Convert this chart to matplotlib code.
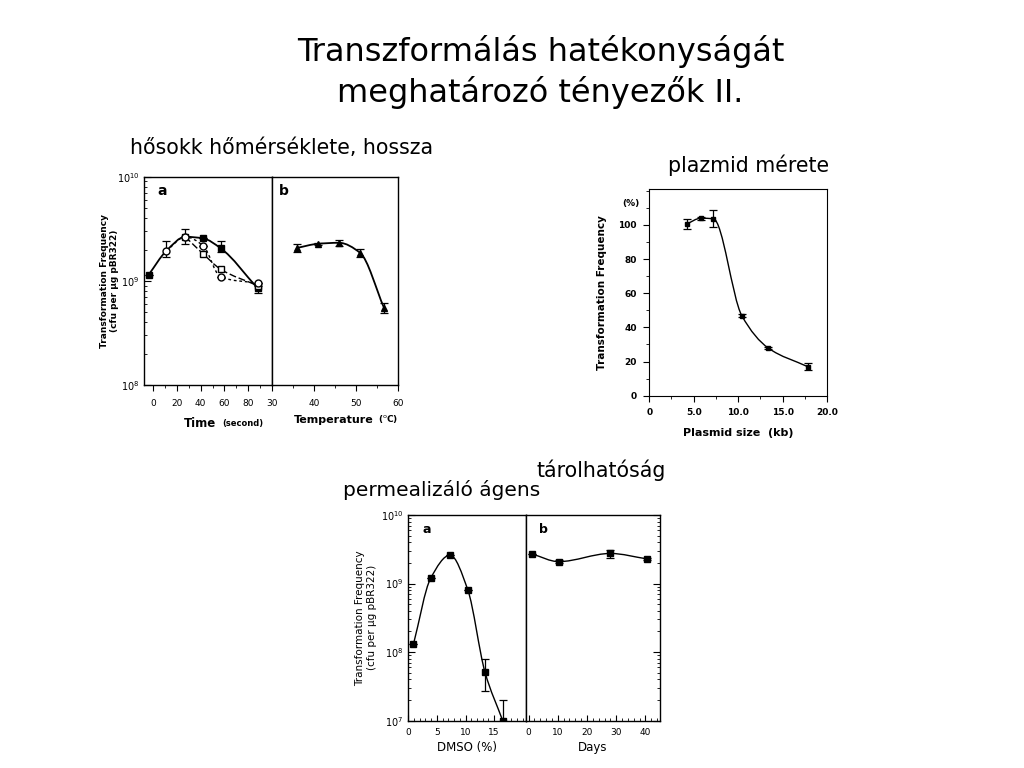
import numpy as np
import matplotlib
matplotlib.use('Agg')
import matplotlib.pyplot as plt
from matplotlib.path import Path
from matplotlib.patches import PathPatch
from matplotlib.ticker import LogLocator, MultipleLocator, NullFormatter

plt.rcParams['font.family'] = ['DejaVu Sans']

# --- heat shock: time (panel a) ---
t_solid = [-4, 11, 27, 42, 57, 88]
f_solid = [1.14e9, 1.94e9, 2.65e9, 2.56e9, 2.05e9, 0.85e9]
t_fsq = [-4, 42, 57, 88]
f_fsq = [1.14e9, 2.56e9, 2.05e9, 0.85e9]
fsq_err_lo = [0, 0, 0.15e9, 0.09e9]
fsq_err_hi = [0, 0, 0.37e9, 0.05e9]
t_ocirc = [11, 27, 42, 57, 88]
f_ocirc = [1.94e9, 2.65e9, 2.18e9, 1.08e9, 0.95e9]
oc_err_lo = [0.24e9, 0.4e9, 0, 0, 0]
oc_err_hi = [0.46e9, 0.48e9, 0, 0, 0]
t_osq = [27, 42, 57, 88]
f_osq = [2.65e9, 1.82e9, 1.29e9, 0.90e9]

# --- heat shock: temperature (panel b) ---
temp = [36, 41, 46, 51, 56.7]
f_temp = [2.07e9, 2.27e9, 2.32e9, 1.86e9, 5.5e8]
temp_err = [0.17e9, 0.05e9, 0.17e9, 0.16e9, 0.6e8]

# --- plasmid size ---
size_kb = [4.2, 5.8, 7.2, 10.4, 13.4, 17.8]
freq_pct = [100.5, 103.9, 103.6, 46.9, 27.8, 17.0]
pct_err = [2.8, 1.0, 4.9, 1.0, 0.6, 2.0]

# --- DMSO (panel a) ---
dmso = [0.9, 3.9, 7.3, 10.4, 13.4, 16.5]
f_dmso = [1.3e8, 1.19e9, 2.6e9, 8.1e8, 5.1e7, 1.0e7]
dmso_err_lo = [0, 0, 0, 0, 2.4e7, 0]
dmso_err_hi = [0, 0, 0, 0, 2.9e7, 1.0e7]

# --- storage days (panel b) ---
days = [1.2, 10.3, 28, 40.6]
f_days = [2.7e9, 2.09e9, 2.75e9, 2.29e9]
days_err = [0, 0.1e9, 0.35e9, 0.1e9]


def smooth_line(ax, x, y, log=False, **kw):
    # monotone cubic (Fritsch-Carlson) drawn as bezier segments through the points
    x = np.asarray(x, float)
    y = np.asarray(y, float)
    yy = np.log10(y) if log else y
    h = np.diff(x)
    d = np.diff(yy) / h
    m = np.zeros(len(x))
    m[0], m[-1] = d[0], d[-1]
    for i in range(1, len(x) - 1):
        if d[i - 1] * d[i] > 0:
            w1 = 2 * h[i] + h[i - 1]
            w2 = h[i] + 2 * h[i - 1]
            m[i] = (w1 + w2) / (w1 / d[i - 1] + w2 / d[i])
    verts = [(x[0], yy[0])]
    codes = [Path.MOVETO]
    for i in range(len(x) - 1):
        verts += [(x[i] + h[i] / 3, yy[i] + m[i] * h[i] / 3),
                  (x[i + 1] - h[i] / 3, yy[i + 1] - m[i + 1] * h[i] / 3),
                  (x[i + 1], yy[i + 1])]
        codes += [Path.CURVE4] * 3
    verts = np.array(verts)
    if log:
        verts[:, 1] = 10 ** verts[:, 1]
    ax.add_patch(PathPatch(Path(verts, codes), fill=False, **kw))


def style_log(ax, lo, hi):
    ax.set_yscale('log')
    ax.set_ylim(lo, hi)
    ax.yaxis.set_major_locator(LogLocator(base=10, numticks=10))
    ax.yaxis.set_minor_locator(LogLocator(base=10, subs=np.arange(2, 10), numticks=10))
    ax.yaxis.set_minor_formatter(NullFormatter())
    ax.tick_params(axis='y', which='both', direction='in', labelsize=7)
    ax.tick_params(axis='y', which='major', length=5)
    ax.tick_params(axis='y', which='minor', length=2.5)
    for s in ax.spines.values():
        s.set_linewidth(1.0)


fig = plt.figure(figsize=(10.24, 7.68), dpi=100)
fig.patch.set_facecolor('white')

fig.text(0.528, 0.906, 'Transzformálás hatékonyságát\nmeghatározó tényezők II.',
         ha='center', va='center', fontsize=23, linespacing=1.3)
fig.text(0.127, 0.807, 'hősokk hőmérséklete, hossza', ha='left', va='center', fontsize=14.8)
fig.text(0.652, 0.785, 'plazmid mérete', ha='left', va='center', fontsize=14.8)
fig.text(0.524, 0.388, 'tárolhatóság', ha='left', va='center', fontsize=14.8)
fig.text(0.335, 0.362, 'permealizáló ágens', ha='left', va='center', fontsize=14.5)

ebkw = dict(fmt='none', ecolor='black', elinewidth=0.9, capsize=3, capthick=0.9)

# ---------------- chart 1 ----------------
ax1a = fig.add_axes([0.141, 0.4987, 0.1244, 0.2712])
ax1b = fig.add_axes([0.2653, 0.4987, 0.1233, 0.2712])
for ax in (ax1a, ax1b):
    style_log(ax, 1e8, 1e10)
ax1a.set_xlim(-7.5, 100)
ax1a.xaxis.set_minor_locator(MultipleLocator(10))
ax1a.set_xticks([0, 20, 40, 60, 80])
ax1b.set_xlim(30, 60)
ax1b.xaxis.set_minor_locator(MultipleLocator(5))
ax1b.set_xticks([30, 40, 50, 60])
for ax in (ax1a, ax1b):
    ax.tick_params(axis='x', which='both', direction='out', labelsize=6.5, pad=6)
    ax.tick_params(axis='x', which='major', length=4)
    ax.tick_params(axis='x', which='minor', length=2)
ax1b.tick_params(axis='y', which='both', left=False, labelleft=False)

smooth_line(ax1a, t_solid, f_solid, log=True, lw=1.3, ec='black')
smooth_line(ax1a, t_osq, f_osq, log=True, lw=1.0, ec='black', ls=(0, (5, 2)))
smooth_line(ax1a, t_ocirc, f_ocirc, log=True, lw=1.0, ec='black', ls=(0, (2, 2)))
ax1a.errorbar(t_fsq, f_fsq, yerr=[fsq_err_lo, fsq_err_hi], **ebkw)
ax1a.errorbar(t_ocirc, f_ocirc, yerr=[oc_err_lo, oc_err_hi], **ebkw)
ax1a.plot(t_fsq, f_fsq, 's', color='black', ms=4.5, zorder=5)
ax1a.plot(t_osq, f_osq, 's', mfc='white', mec='black', ms=4.5, zorder=5)
ax1a.plot(t_ocirc, f_ocirc, 'o', mfc='white', mec='black', ms=5, zorder=6)
ax1a.text(0.1, 0.93, 'a', transform=ax1a.transAxes, fontsize=10, fontweight='bold', va='center')

smooth_line(ax1b, temp, f_temp, log=True, lw=1.3, ec='black')
ax1b.errorbar(temp, f_temp, yerr=temp_err, **ebkw)
ax1b.plot(temp, f_temp, '^', color='black', ms=5, zorder=5)
ax1b.text(0.06, 0.93, 'b', transform=ax1b.transAxes, fontsize=10, fontweight='bold', va='center')

ax1a.set_ylabel('Transformation Frequency\n(cfu per \u03bcg pBR322)', fontsize=6.5,
                fontweight='bold')
ax1a.yaxis.set_label_coords(-0.2, 0.5)
fig.text(0.180, 0.449, 'Time', fontsize=8.5, fontweight='bold', va='center')
fig.text(0.217, 0.449, '(second)', fontsize=6, fontweight='bold', va='center')
fig.text(0.287, 0.453, 'Temperature', fontsize=8, fontweight='bold', va='center')
fig.text(0.369, 0.455, '($^{\\mathrm{o}}$C)', fontsize=6.5, fontweight='bold', va='center')

# ---------------- chart 2 ----------------
ax2 = fig.add_axes([0.634, 0.4848, 0.1738, 0.2691])
ax2.set_xlim(0, 20)
ax2.set_ylim(0, 121)
ax2.xaxis.set_minor_locator(MultipleLocator(2.5))
ax2.yaxis.set_minor_locator(MultipleLocator(10))
ax2.set_yticks([0, 20, 40, 60, 80, 100])
ax2.set_xticks([0, 5, 10, 15, 20])
ax2.set_xticklabels(['0', '5.0', '10.0', '15.0', '20.0'])
ax2.tick_params(which='both', direction='out', labelsize=6.5, pad=5)
ax2.tick_params(which='major', length=4)
ax2.tick_params(which='minor', length=2)
for lab in ax2.get_xticklabels() + ax2.get_yticklabels():
    lab.set_fontweight('bold')
smooth_line(ax2, size_kb, freq_pct, lw=1.0, ec='black')
ax2.errorbar(size_kb, freq_pct, yerr=pct_err, **ebkw)
ax2.plot(size_kb, freq_pct, 's', color='black', ms=3.5, zorder=5)
ax2.text(-0.15, 0.93, '(%)', transform=ax2.transAxes, fontsize=6.5, fontweight='bold', va='center')
ax2.set_ylabel('Transformation Frequency', fontsize=7.5, fontweight='bold')
ax2.yaxis.set_label_coords(-0.235, 0.5)
ax2.set_xlabel('Plasmid size  (kb)', fontsize=8, fontweight='bold', labelpad=8)

# ---------------- chart 3 ----------------
ax3a = fig.add_axes([0.3987, 0.0616, 0.1146, 0.2678])
ax3b = fig.add_axes([0.5134, 0.0616, 0.1311, 0.2678])
for ax in (ax3a, ax3b):
    style_log(ax, 1e7, 1e10)
    ax.tick_params(axis='x', which='both', direction='in', labelsize=6.5, pad=5)
    ax.tick_params(axis='x', which='major', length=4)
    ax.tick_params(axis='x', which='minor', length=2)
ax3a.set_xlim(0, 20.5)
ax3a.xaxis.set_minor_locator(MultipleLocator(1))
ax3a.set_xticks([0, 5, 10, 15])
ax3b.set_xlim(-1, 45)
ax3b.xaxis.set_minor_locator(MultipleLocator(2))
ax3b.set_xticks([0, 10, 20, 30, 40])
ax3b.tick_params(axis='y', which='both', left=False, labelleft=False, right=True)

smooth_line(ax3a, dmso, f_dmso, log=True, lw=1.0, ec='black')
ax3a.errorbar(dmso, f_dmso, yerr=[dmso_err_lo, dmso_err_hi], **ebkw)
ax3a.plot(dmso, f_dmso, 's', color='black', ms=4, zorder=5)
ax3a.text(0.12, 0.93, 'a', transform=ax3a.transAxes, fontsize=9, fontweight='bold', va='center')

smooth_line(ax3b, days, f_days, log=True, lw=1.0, ec='black')
ax3b.errorbar(days, f_days, yerr=days_err, **ebkw)
ax3b.plot(days, f_days, 's', color='black', ms=4, zorder=5)
ax3b.text(0.1, 0.93, 'b', transform=ax3b.transAxes, fontsize=9, fontweight='bold', va='center')

ax3a.set_ylabel('Transformation Frequency\n(cfu per \u03bcg pBR322)', fontsize=7.5)
ax3a.yaxis.set_label_coords(-0.27, 0.5)
ax3a.set_xlabel('DMSO (%)', fontsize=8.5, labelpad=3)
ax3b.set_xlabel('Days', fontsize=8.5, labelpad=3)

fig.savefig('out.png', dpi=100)
